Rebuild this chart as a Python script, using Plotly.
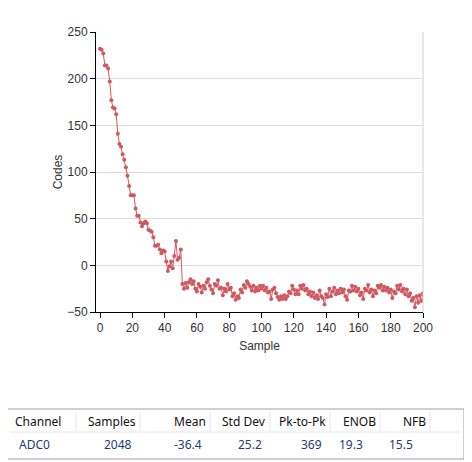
import plotly.graph_objects as go

W, H = 472, 462

# ADC codes per sample
codes = [
    232, 231, 227, 214, 214, 211, 197, 177, 169, 168,
    162, 141, 130, 127, 119, 113, 105, 96, 85, 75,
    75, 75, 61, 53, 53, 46, 42, 45, 47, 45,
    38, 37, 36, 30, 21, 21, 22, 17, 13, 16,
    15, 4, -6, -1, 4, -3, 10, 26, 6, 8,
    17, -20, -25, -19, -24, -18, -15, -20, -17, -25,
    -28, -20, -23, -29, -22, -25, -18, -15, -22, -26,
    -30, -20, -22, -16, -25, -24, -32, -25, -28, -20,
    -26, -24, -33, -30, -37, -33, -35, -26, -29, -21,
    -24, -17, -20, -23, -27, -22, -28, -24, -27, -22,
    -25, -22, -27, -24, -29, -28, -36, -26, -24, -30,
    -34, -37, -33, -36, -32, -36, -33, -28, -30, -22,
    -26, -31, -27, -31, -22, -25, -21, -27, -25, -31,
    -28, -33, -29, -35, -32, -36, -27, -33, -35, -42,
    -31, -34, -25, -33, -28, -24, -31, -27, -30, -25,
    -29, -26, -33, -37, -27, -28, -22, -27, -23, -28,
    -25, -32, -29, -36, -25, -27, -21, -29, -26, -33,
    -27, -30, -22, -24, -21, -27, -23, -27, -24, -29,
    -26, -35, -28, -30, -22, -26, -21, -28, -25, -31,
    -26, -33, -30, -38, -35, -45, -33, -40, -32, -38,
    -30,
]
samples = list(range(len(codes)))

# statistics table
headers = ["Channel", "Samples", "Mean", "Std Dev", "Pk-to-Pk", "ENOB", "NFB"]
row = ["ADC0", "2048", "-36.4", "25.2", "369", "19.3", "15.5"]

# page body adds an 8px margin, so screen pixels are shifted by it
OFF = 8


def px(x):
    return (x - OFF) / W


def py(y):
    return 1 - (y - OFF) / H


fig = go.Figure()
fig.add_trace(go.Scatter(
    x=samples, y=codes, mode="lines+markers",
    line=dict(color="#d0585f", width=1),
    marker=dict(color="#d0585f", size=4),
    hoverinfo="x+y", showlegend=False,
))

axis_font = dict(family="Liberation Sans, Arial, sans-serif", size=12, color="#333333")

fig.update_layout(
    width=W, height=H, autosize=False,
    margin=dict(l=0, r=0, t=0, b=0, autoexpand=False),
    paper_bgcolor="white", plot_bgcolor="white",
    font=axis_font,
    xaxis=dict(
        domain=[px(96), px(423)], range=[-2.5, 200], automargin=False,
        tickmode="linear", tick0=0, dtick=20,
        showline=True, linecolor="black", linewidth=1,
        ticks="outside", ticklen=5, tickcolor="black",
        showgrid=False, zeroline=False,
        title=dict(text="Sample", font=axis_font, standoff=7),
    ),
    yaxis=dict(
        domain=[py(312), py(32)], range=[-50, 250], automargin=False,
        tickmode="linear", tick0=-50, dtick=50,
        showline=True, linecolor="black", linewidth=1,
        ticks="outside", ticklen=5, tickcolor="black",
        showgrid=True, gridcolor="#dcdcdc", zeroline=False,
        title=dict(text="Codes", font=axis_font, standoff=2),
    ),
)

# light frame on the right of the plot
fig.add_shape(type="line", xref="x domain", yref="y domain",
              x0=1, x1=1, y0=0, y1=1, line=dict(color="#d0d0d0", width=1))

# table box
fig.add_shape(type="rect", xref="paper", yref="paper",
              x0=px(7), x1=px(464), y0=py(459), y1=py(409),
              line=dict(color="#a0a0a0", width=1), fillcolor="white")
fig.add_shape(type="line", xref="paper", yref="paper",
              x0=px(10), x1=px(461), y0=py(432), y1=py(432),
              line=dict(color="#e6e6e6", width=1))
for sx in [76, 140, 210, 270, 330, 380, 430]:
    fig.add_shape(type="line", xref="paper", yref="paper",
                  x0=px(sx), x1=px(sx), y0=py(431), y1=py(412),
                  line=dict(color="#e6e6e6", width=1))

table_font = dict(family="Noto Sans, Open Sans, sans-serif", size=12)
head_x = [13, 138, 208, 268, 328, 378, 428]
data_x = [17, 134, 204, 264, 324, 365, 415]
for i, (h, v) in enumerate(zip(headers, row)):
    anchor = "left" if i == 0 else "right"
    fig.add_annotation(text=h, xref="paper", yref="paper",
                       x=px(head_x[i]), y=py(421), xanchor=anchor, yanchor="middle",
                       showarrow=False, font=dict(color="#111111", **table_font))
    fig.add_annotation(text=v, xref="paper", yref="paper",
                       x=px(data_x[i]), y=py(444), xanchor=anchor, yanchor="middle",
                       showarrow=False, font=dict(color="#1f3a78", **table_font))

fig.write_html("out.html")
